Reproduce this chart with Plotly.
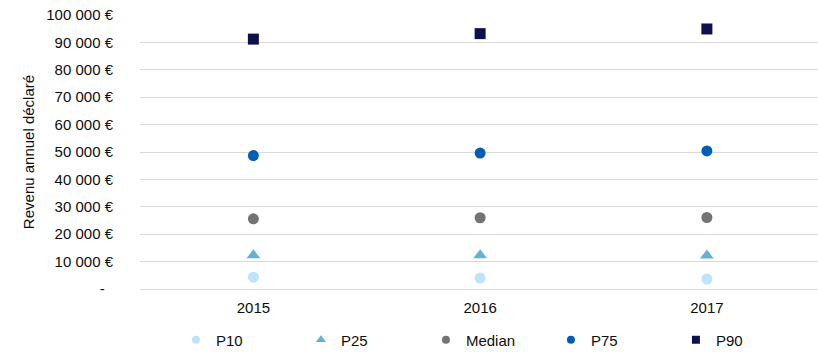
import plotly.graph_objects as go

years = ["2015", "2016", "2017"]
p10 = [4300, 4000, 3650]
p25 = [12300, 12300, 12200]
median = [25600, 26000, 26100]
p75 = [48700, 49600, 50400]
p90 = [91200, 93200, 94900]

tick_vals = [0, 10000, 20000, 30000, 40000, 50000, 60000, 70000, 80000, 90000, 100000]
tick_text = ["-\u00a0\u00a0"] + [f"{v // 1000}\u00a0000\u00a0€" for v in tick_vals[1:]]

series = [
    ("P10", p10, "circle", "#bde4f8", 11, 8),
    ("P25", p25, "triangle-up", "#64b0d6", 12, 9),
    ("Median", median, "circle", "#737373", 11, 8),
    ("P75", p75, "circle", "#005eb5", 11, 8),
    ("P90", p90, "square", "#10104e", 11, 8),
]

fig = go.Figure()
for name, vals, sym, col, sz, lsz in series:
    fig.add_trace(go.Scatter(
        x=years, y=vals, name=name, mode="markers", showlegend=False,
        marker=dict(symbol=sym, color=col, size=sz, line=dict(width=0)),
    ))
# legend entries (smaller symbols, as in the original legend)
for name, vals, sym, col, sz, lsz in series:
    fig.add_trace(go.Scatter(
        x=[None], y=[None], name=name, mode="markers", showlegend=True,
        marker=dict(symbol=sym, color=col, size=lsz, line=dict(width=0)),
    ))

font = "Liberation Sans, Arial, sans-serif"
txt = "#0d0d0d"
fig.update_layout(
    width=818, height=352,
    margin=dict(l=140, r=0, t=15, b=63, pad=0),
    paper_bgcolor="white", plot_bgcolor="white",
    font=dict(family=font, size=15, color=txt),
    showlegend=True,
    legend=dict(
        orientation="h", xref="paper", x=0.053, xanchor="left",
        yref="container", y=12 / 352, yanchor="middle",
        entrywidth=80, entrywidthmode="pixels", itemsizing="trace",
        font=dict(size=15, color=txt), bgcolor="rgba(0,0,0,0)",
    ),
    xaxis=dict(
        type="category", range=[-0.5, 2.49], showgrid=False, zeroline=False,
        showline=True, linecolor="#d9d9d9", linewidth=1, ticks="",
        ticklabelstandoff=5,
        tickfont=dict(size=15, color=txt),
    ),
    yaxis=dict(
        range=[0, 100000], tickvals=tick_vals, ticktext=tick_text,
        showgrid=True, gridcolor="#d9d9d9", gridwidth=1, zeroline=False,
        showline=False, ticks="", ticklabelstandoff=26,
        tickfont=dict(size=15, color=txt),
        title=dict(text="Revenu annuel déclaré", font=dict(size=15, color=txt), standoff=8),
    ),
)

fig.write_html("out.html")
